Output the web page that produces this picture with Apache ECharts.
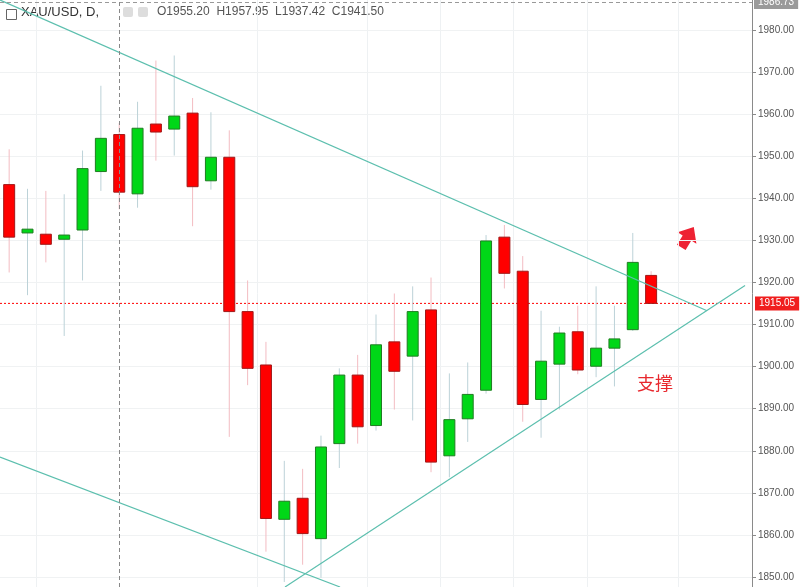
<!DOCTYPE html>
<html><head><meta charset="utf-8">
<script src="https://cdn.jsdelivr.net/npm/echarts@6/dist/echarts.min.js"></script>
<style>html,body{margin:0;padding:0;background:#fff}#main{width:800px;height:587px}</style>
</head><body><div id="main"></div>
<script>
// XAU/USD 日线 三角形整理
var opens  = [1943.3,1931.8,1931.5,1930.3,1932.5,1946.4,1955.2,1941.1,1957.7,1956.5,1960.3,1944.2,1949.8,1913.1,1900.4,1863.7,1868.7,1859.1,1881.7,1898.0,1886.0,1905.9,1902.5,1913.5,1878.8,1887.6,1894.4,1930.8,1922.7,1892.2,1900.6,1908.3,1900.1,1904.4,1908.8,1921.7];
var closes = [1930.8,1932.7,1929.1,1931.3,1947.1,1954.3,1941.5,1956.7,1955.8,1959.6,1942.8,1949.8,1913.1,1899.6,1863.9,1868.0,1860.3,1880.9,1898.0,1885.7,1905.2,1898.9,1913.1,1877.3,1887.4,1893.4,1929.9,1922.2,1891.0,1901.3,1908.0,1899.2,1904.4,1906.6,1924.8,1915.05];
var lows   = [1922.4,1917.0,1924.8,1907.3,1920.5,1941.8,1937.42,1937.8,1949.0,1950.2,1933.4,1942.1,1883.3,1895.6,1856.0,1848.8,1852.9,1849.8,1875.9,1881.7,1884.8,1889.8,1887.2,1874.9,1873.7,1882.1,1893.6,1918.6,1886.9,1883.1,1889.8,1898.2,1897.5,1895.3,1908.5,1915.2];
var highs  = [1951.7,1942.3,1941.8,1941.0,1951.4,1966.8,1957.95,1963.0,1972.8,1974.0,1963.9,1960.5,1956.2,1920.5,1905.9,1877.6,1875.7,1883.6,1899.6,1902.8,1912.4,1917.4,1919.1,1921.2,1898.4,1901.0,1931.3,1933.7,1926.3,1913.3,1909.5,1914.5,1919.1,1914.5,1931.8,1922.7];
var slots = 41;            // 36 根K线 + 右侧空白
var priceTicks = [1850, 1860, 1870, 1880, 1890, 1900, 1910, 1920, 1930, 1940, 1950, 1960, 1970, 1980];
var lastPrice = 1915.05;
var topPrice = 1986.73;
// 趋势线 [K线序号, 价格]
var upperLine = [[-0.5, 1987.2], [38.05, 1913.3]];
var supportLine = [[15.04, 1847.6], [40.12, 1919.3]];
var lowerLine = [[-0.5, 1878.5], [18.04, 1847.6]];
var gridIdx = [2, 14, 20, 24, 28, 32, 37];

var cats = [];
for (var i = 0; i < slots; i++) cats.push(String(i));
var ohlc = opens.map(function (o, i) { return [i, o, closes[i], lows[i], highs[i]]; });

var chart = echarts.init(document.getElementById('main'));
var lineStyle = { color: '#5cbfae', width: 1.2 };
chart.setOption({
  animation: false,
  grid: { left: 0, right: 48, top: 0, bottom: 0 },
  xAxis: [{
    type: 'category', data: cats, show: true,
    axisLine: { show: false }, axisTick: { show: false }, axisLabel: { show: false },
    splitLine: { show: true, interval: function (i) { return gridIdx.indexOf(i) >= 0; }, lineStyle: { color: '#eef1f3' } }
  }, {
    type: 'value', min: -0.5, max: slots - 0.5, show: false
  }],
  yAxis: {
    type: 'value', position: 'right', min: 1847.6, max: 1987.2,
    axisLine: { show: true, onZero: false, lineStyle: { color: '#8a8a8a' } },
    axisTick: { show: true, length: 4, customValues: priceTicks, lineStyle: { color: '#8a8a8a' } },
    axisLabel: { color: '#555', fontSize: 10, fontFamily: 'Liberation Sans', margin: 6, customValues: priceTicks,
      formatter: function (v) { return v.toFixed(2); } },
    splitLine: { show: false }
  },
  series: [{
    type: 'custom', xAxisIndex: 0, data: ohlc, z: 3,
    encode: { x: 0, y: [1, 2, 3, 4] },
    renderItem: function (params, api) {
      var x = api.value(0), o = api.value(1), c = api.value(2), l = api.value(3), h = api.value(4);
      var up = c >= o;
      var pO = api.coord([x, o]), pC = api.coord([x, c]), pL = api.coord([x, l]), pH = api.coord([x, h]);
      var w = 11;
      var top = Math.min(pO[1], pC[1]), ht = Math.max(Math.abs(pO[1] - pC[1]), 2);
      return { type: 'group', children: [
        { type: 'line', shape: { x1: pH[0], y1: pH[1], x2: pL[0], y2: pL[1] },
          style: { stroke: up ? '#bcd2d8' : '#f3bcc2', lineWidth: 1 } },
        { type: 'rect', shape: { x: pO[0] - w / 2, y: top, width: w, height: ht },
          style: { fill: up ? '#00d717' : '#ff0000', stroke: up ? '#1f7d22' : '#a01818', lineWidth: 1 } }
      ]};
    },
    markLine: {
      silent: true, symbol: 'none', z: 0, label: { show: false },
      lineStyle: { color: '#f0f2f3', type: 'solid', width: 1 },
      data: priceTicks.map(function (p) { return { yAxis: p }; })
    }
  },
  { type: 'line', xAxisIndex: 1, data: upperLine, symbol: 'none', lineStyle: lineStyle, silent: true,
    markLine: {
      silent: true, symbol: 'none',
      lineStyle: { color: '#999', type: [4, 3], width: 1 },
      label: { position: 'end', formatter: '1986.73', color: '#fff', backgroundColor: '#9a9a9a', padding: [2, 4], fontSize: 10, distance: 2 },
      data: [{ yAxis: topPrice }]
    } },
  { type: 'line', xAxisIndex: 1, data: supportLine, symbol: 'none', lineStyle: lineStyle, silent: true,
    markLine: {
      silent: true, symbol: 'none', label: { show: false },
      lineStyle: { color: '#888', type: [4, 3], width: 1 },
      data: [{ xAxis: 6 }]
    } },
  { type: 'line', xAxisIndex: 1, data: lowerLine, symbol: 'none', lineStyle: lineStyle, silent: true },
  { type: 'line', xAxisIndex: 1, silent: true, symbol: 'none', z: 1,
    data: [[-0.5, lastPrice], [slots - 0.5, lastPrice]],
    lineStyle: { color: '#ff0000', type: [2, 2], width: 1 },
    endLabel: { show: true, formatter: '1915.05', color: '#fff', backgroundColor: '#f01e1e', padding: [2, 4], fontSize: 10, fontFamily: 'Liberation Sans', distance: 3 } }],
  graphic: [
    { type: 'rect', left: 4, top: 7, shape: { width: 10, height: 10 }, style: { fill: 'none', stroke: '#666', lineWidth: 1 } },
    { type: 'text', left: 21, top: 6, style: { text: 'XAU/USD, D,', fontSize: 13, fill: '#333', fontFamily: 'Liberation Sans' } },
    { type: 'text', left: 157, top: 6, style: { text: 'O1955.20  H1957.95  L1937.42  C1941.50', fontSize: 12, fill: '#555', fontFamily: 'Liberation Sans' } },
    { type: 'rect', left: 123, top: 7, shape: { width: 10, height: 10, r: 2 }, style: { fill: '#ddd' } },
    { type: 'rect', left: 138, top: 7, shape: { width: 10, height: 10, r: 2 }, style: { fill: '#ddd' } },
    { type: 'text', left: 637, top: 374, style: { text: '支撑', fontSize: 18, fill: '#e8282e', fontFamily: 'Noto Sans CJK SC' } },
    { type: 'polygon',
      shape: { points: [[693.8, 226.9], [696.4, 243.7], [691.3, 240.6], [685.6, 250], [677, 244.8], [682.7, 235.4], [677.6, 232.3]] },
      style: { fill: '#ee2233' } }
  ]
});
</script>
</body></html>
